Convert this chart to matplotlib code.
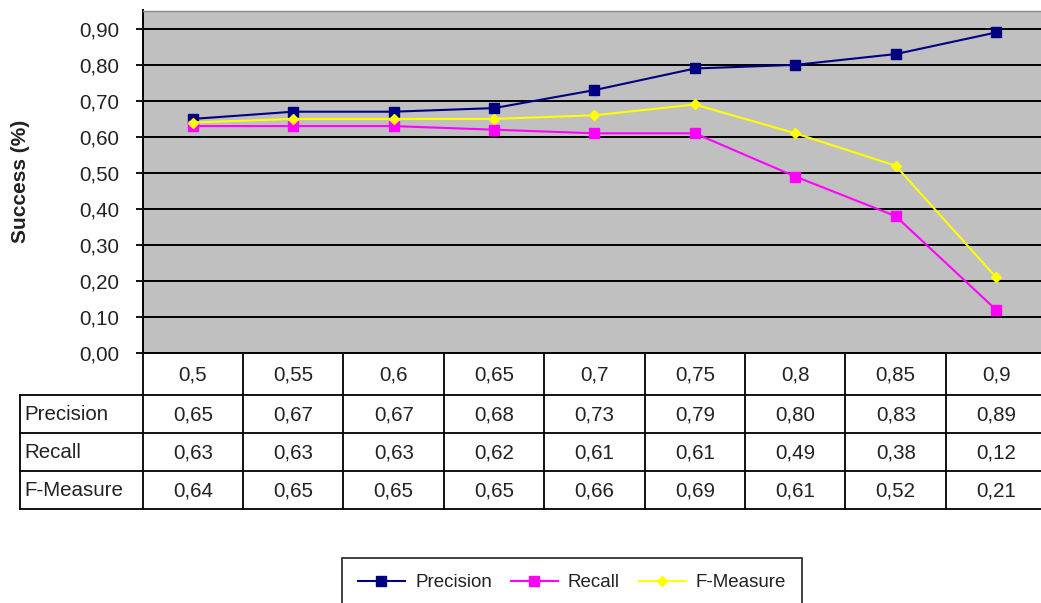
import numpy as np
import matplotlib
matplotlib.use("Agg")
import matplotlib.pyplot as plt
from matplotlib.ticker import FuncFormatter
from matplotlib.lines import Line2D

# Threshold values and the scores obtained at each threshold
thresholds = ["0,5", "0,55", "0,6", "0,65", "0,7", "0,75", "0,8", "0,85", "0,9"]
precision = [0.65, 0.67, 0.67, 0.68, 0.73, 0.79, 0.80, 0.83, 0.89]
recall = [0.63, 0.63, 0.63, 0.62, 0.61, 0.61, 0.49, 0.38, 0.12]
f_measure = [0.64, 0.65, 0.65, 0.65, 0.66, 0.69, 0.61, 0.52, 0.21]
series_names = ["Precision", "Recall", "F-Measure"]
y_ticks = [0.0, 0.1, 0.2, 0.3, 0.4, 0.5, 0.6, 0.7, 0.8, 0.9]

plt.rcParams["font.family"] = ["Liberation Sans", "DejaVu Sans"]
TXT = "#222222"
FS = 14.8

W, H = 1041, 603
fig = plt.figure(figsize=(W / 100, H / 100), dpi=100)
fig.patch.set_facecolor("white")

col_w = 100.4
x0 = 142.7
plot_top, plot_bottom = 10.5, 353
ax = fig.add_axes([x0 / W, 1 - plot_bottom / H, 9 * col_w / W, (plot_bottom - plot_top) / H])
ax.set_xlim(-0.5, 8.5)
ax.set_ylim(0, 0.951)
ax.set_facecolor("#c0c0c0")
ax.set_yticks(y_ticks)
ax.yaxis.set_major_formatter(FuncFormatter(lambda v, _: f"{v:.2f}".replace(".", ",")))
ax.set_xticks([])
ax.grid(axis="y", color="black", lw=1.4, zorder=1)
ax.set_axisbelow(True)
ax.tick_params(axis="y", length=5, width=1.3, pad=12, labelsize=FS, labelcolor=TXT)
for side in ("left", "bottom"):
    ax.spines[side].set_color("black")
    ax.spines[side].set_linewidth(1.4)
ax.spines["top"].set_color("#8a8a8a")
ax.spines["top"].set_linewidth(1.0)
ax.spines["right"].set_visible(False)

x = np.arange(len(thresholds))
styles = [
    dict(color="#000080", marker="s", ms=7),
    dict(color="#ff00ff", marker="s", ms=7),
    dict(color="#ffff00", marker="D", ms=5),
]
for vals, st in zip([precision, recall, f_measure], styles):
    ax.plot(x, vals, lw=1.5, color=st["color"], marker=st["marker"],
            ms=st["ms"], mfc=st["color"], mec=st["color"], zorder=3)

# Data table under the plot, columns aligned with the categories
row_edges = [0, 42, 80, 118, 156]
tab_h = 157
tax = fig.add_axes([x0 / W, 1 - (plot_bottom + tab_h) / H, 9 * col_w / W, tab_h / H])
tax.set_xlim(-0.5, 8.5)
tax.set_ylim(tab_h, 0)
tax.axis("off")
label_left = -0.5 - (x0 - 20) / col_w
lw_t = 1.3
for i in range(len(thresholds) + 1):
    tax.plot([i - 0.5, i - 0.5], [0, row_edges[-1]], color="black", lw=lw_t, clip_on=False)
tax.plot([label_left, label_left], [row_edges[1], row_edges[-1]], color="black", lw=lw_t, clip_on=False)
for yv in row_edges[1:]:
    tax.plot([label_left, 8.5], [yv, yv], color="black", lw=lw_t, clip_on=False)

for i, t in enumerate(thresholds):
    tax.text(i, (row_edges[0] + row_edges[1]) / 2 + 1, t, ha="center", va="center",
             fontsize=FS, color=TXT)
label_x = label_left + 4 / col_w
for r, (name, vals) in enumerate(zip(series_names, [precision, recall, f_measure])):
    yc = (row_edges[r + 1] + row_edges[r + 2]) / 2 + 1
    tax.text(label_x, yc, name, ha="left", va="center", fontsize=FS, color=TXT, clip_on=False)
    for i, v in enumerate(vals):
        tax.text(i, yc, f"{v:.2f}".replace(".", ","), ha="center", va="center",
                 fontsize=FS, color=TXT)

fig.text(21 / W, 1 - 181 / H, "Success (%)", rotation=90, ha="center", va="center",
         fontsize=15, fontweight="bold", color=TXT)

handles = [Line2D([], [], lw=1.5, color=st["color"], marker=st["marker"], ms=st["ms"],
                  mfc=st["color"], mec=st["color"]) for st in styles]
leg = fig.legend(handles, series_names, loc="upper left", bbox_to_anchor=(342 / W, 1 - 558 / H),
                 ncol=3, fontsize=13.5, frameon=True, fancybox=False, edgecolor="black",
                 handlelength=2.5, handletextpad=0.55, columnspacing=1.0, borderpad=0.85,
                 borderaxespad=0)
leg.get_frame().set_linewidth(1.3)
for t in leg.get_texts():
    t.set_color(TXT)

fig.savefig("out.png", dpi=100)
